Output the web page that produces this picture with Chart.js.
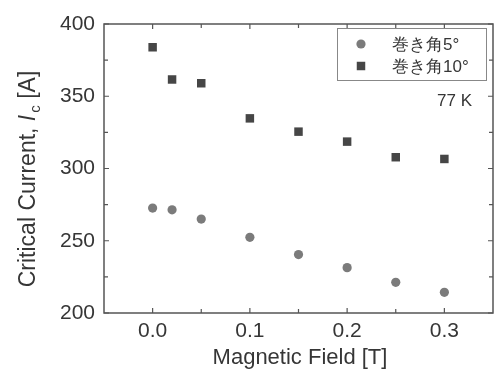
<!DOCTYPE html>
<html>
<head>
<meta charset="utf-8">
<script src="https://cdn.jsdelivr.net/npm/chart.js@4/dist/chart.umd.min.js"></script>
<style>
    html, body { margin: 0; padding: 0; background: #fff; }
    #wrap { width: 494px; height: 370px; }
</style>
</head>
<body>
<div id="wrap"><canvas id="icChart" width="494" height="370"></canvas></div>
<script>
// Magnetic field values [T]
const fieldValues = [0, 0.02, 0.05, 0.1, 0.15, 0.2, 0.25, 0.3];

// Critical current [A] for each winding angle
const ic5deg = [272.6, 271.4, 265, 252.4, 240.4, 231.4, 221.2, 214.3];
const ic10deg = [383.9, 361.6, 359, 334.7, 325.5, 318.6, 307.8, 306.6];

const seriesLabels = ['巻き角5°', '巻き角10°'];

// Axis ticks
const xMajorTicks = [0, 0.1, 0.2, 0.3];
const xMinorTicks = [0.05, 0.15, 0.25];
const xTickLabels = ['0.0', '0.1', '0.2', '0.3'];
const yMajorTicks = [200, 250, 300, 350, 400];
const yMinorTicks = [225, 275, 325, 375];

const TEXT_COLOR = '#363636';
const FRAME_COLOR = '#555';
const FONT = '"Liberation Sans", Arial, sans-serif';

function toPoints(xs, ys) {
    return xs.map((x, i) => ({ x: x, y: ys[i] }));
}

// Frame, inward ticks, x labels, axis titles, legend and annotation
const decorPlugin = {
    id: 'decor',
    afterDraw(chart) {
        const ctx = chart.ctx;
        const area = chart.chartArea;
        const xs = chart.scales.x;
        const ys = chart.scales.y;

        ctx.save();
        ctx.strokeStyle = FRAME_COLOR;
        ctx.lineWidth = 1.5;
        ctx.strokeRect(area.left, area.top, area.right - area.left, area.bottom - area.top);

        ctx.lineWidth = 1.2;
        ctx.beginPath();
        const xTick = (v, len) => {
            const px = xs.getPixelForValue(v);
            ctx.moveTo(px, area.bottom); ctx.lineTo(px, area.bottom - len);
            ctx.moveTo(px, area.top); ctx.lineTo(px, area.top + len);
        };
        const yTick = (v, len) => {
            const py = ys.getPixelForValue(v);
            ctx.moveTo(area.left, py); ctx.lineTo(area.left + len, py);
            ctx.moveTo(area.right, py); ctx.lineTo(area.right - len, py);
        };
        xMajorTicks.forEach(v => xTick(v, 5));
        xMinorTicks.forEach(v => xTick(v, 4));
        yMajorTicks.forEach(v => yTick(v, 5));
        yMinorTicks.forEach(v => yTick(v, 4));
        ctx.stroke();

        // x tick labels
        ctx.fillStyle = TEXT_COLOR;
        ctx.font = '21px ' + FONT;
        ctx.textAlign = 'center';
        ctx.textBaseline = 'alphabetic';
        xMajorTicks.forEach((v, i) => {
            ctx.fillText(xTickLabels[i], xs.getPixelForValue(v), area.bottom + 24);
        });

        // x title
        ctx.font = '22px ' + FONT;
        ctx.fillText('Magnetic Field [T]', 300, 364);

        // y title with italic I and subscript c
        const partA = 'Critical Current, ';
        const partB = 'I';
        const partC = 'c';
        const partD = ' [A]';
        const fMain = '23px ' + FONT;
        const fItal = 'italic 23px ' + FONT;
        const fSub = '15px ' + FONT;
        ctx.font = fMain;
        const wA = ctx.measureText(partA).width;
        const wD = ctx.measureText(partD).width;
        ctx.font = fItal;
        const wB = ctx.measureText(partB).width + 2;
        ctx.font = fSub;
        const wC = ctx.measureText(partC).width;
        const total = wA + wB + wC + wD;

        ctx.translate(35, 179);
        ctx.rotate(-Math.PI / 2);
        ctx.textAlign = 'left';
        let cx = -total / 2;
        ctx.font = fMain; ctx.fillText(partA, cx, 0); cx += wA;
        ctx.font = fItal; ctx.fillText(partB, cx, 0); cx += wB;
        ctx.font = fSub; ctx.fillText(partC, cx, 5); cx += wC;
        ctx.font = fMain; ctx.fillText(partD, cx, 0);
        ctx.setTransform(1, 0, 0, 1, 0, 0);

        // legend box
        ctx.lineWidth = 1;
        ctx.strokeStyle = '#888';
        ctx.strokeRect(337.5, 28.5, 149, 52);
        const rowY = [44, 66];
        ctx.font = '17px ' + FONT;
        ctx.textBaseline = 'middle';
        chart.data.datasets.forEach((ds, i) => {
            ctx.fillStyle = ds.backgroundColor;
            if (ds.pointStyle === 'rect') {
                const s = ds.pointRadius * Math.SQRT1_2;
                ctx.fillRect(361 - s, rowY[i] - s, 2 * s, 2 * s);
            } else {
                ctx.beginPath();
                ctx.arc(361, rowY[i], ds.pointRadius, 0, Math.PI * 2);
                ctx.fill();
            }
            ctx.fillStyle = TEXT_COLOR;
            ctx.fillText(ds.label, 392, rowY[i] + 1);
        });

        ctx.fillText('77 K', 437, 101);
        ctx.restore();
    }
};

let icChart;

function initializeChart() {
    const ctx = document.getElementById('icChart').getContext('2d');

    icChart = new Chart(ctx, {
        type: 'scatter',
        data: {
            datasets: [{
                label: seriesLabels[0],
                data: toPoints(fieldValues, ic5deg),
                pointStyle: 'circle',
                pointRadius: 4.6,
                backgroundColor: '#7b7b7b',
                borderWidth: 0
            }, {
                label: seriesLabels[1],
                data: toPoints(fieldValues, ic10deg),
                pointStyle: 'rect',
                pointRadius: 6,
                backgroundColor: '#464646',
                borderWidth: 0
            }]
        },
        options: {
            responsive: false,
            animation: false,
            layout: {
                autoPadding: false,
                padding: { top: 24, right: 1, left: 0, bottom: 0 }
            },
            plugins: {
                legend: { display: false },
                tooltip: { enabled: false }
            },
            scales: {
                x: {
                    type: 'linear',
                    min: -0.05,
                    max: 0.35,
                    grid: { display: false, drawTicks: false },
                    border: { display: false },
                    afterBuildTicks: scale => {
                        scale.ticks = xMajorTicks.map(v => ({ value: v }));
                    },
                    afterFit: scale => { scale.height = 57; },
                    ticks: { display: false }
                },
                y: {
                    type: 'linear',
                    min: 200,
                    max: 400,
                    grid: { display: false, drawTicks: false },
                    border: { display: false },
                    afterBuildTicks: scale => {
                        scale.ticks = yMajorTicks.map(v => ({ value: v }));
                    },
                    afterFit: scale => { scale.width = 104; },
                    ticks: {
                        padding: 9,
                        color: TEXT_COLOR,
                        font: { family: FONT, size: 21 }
                    }
                }
            }
        },
        plugins: [decorPlugin]
    });
}

document.addEventListener('DOMContentLoaded', initializeChart);
</script>
</body>
</html>
